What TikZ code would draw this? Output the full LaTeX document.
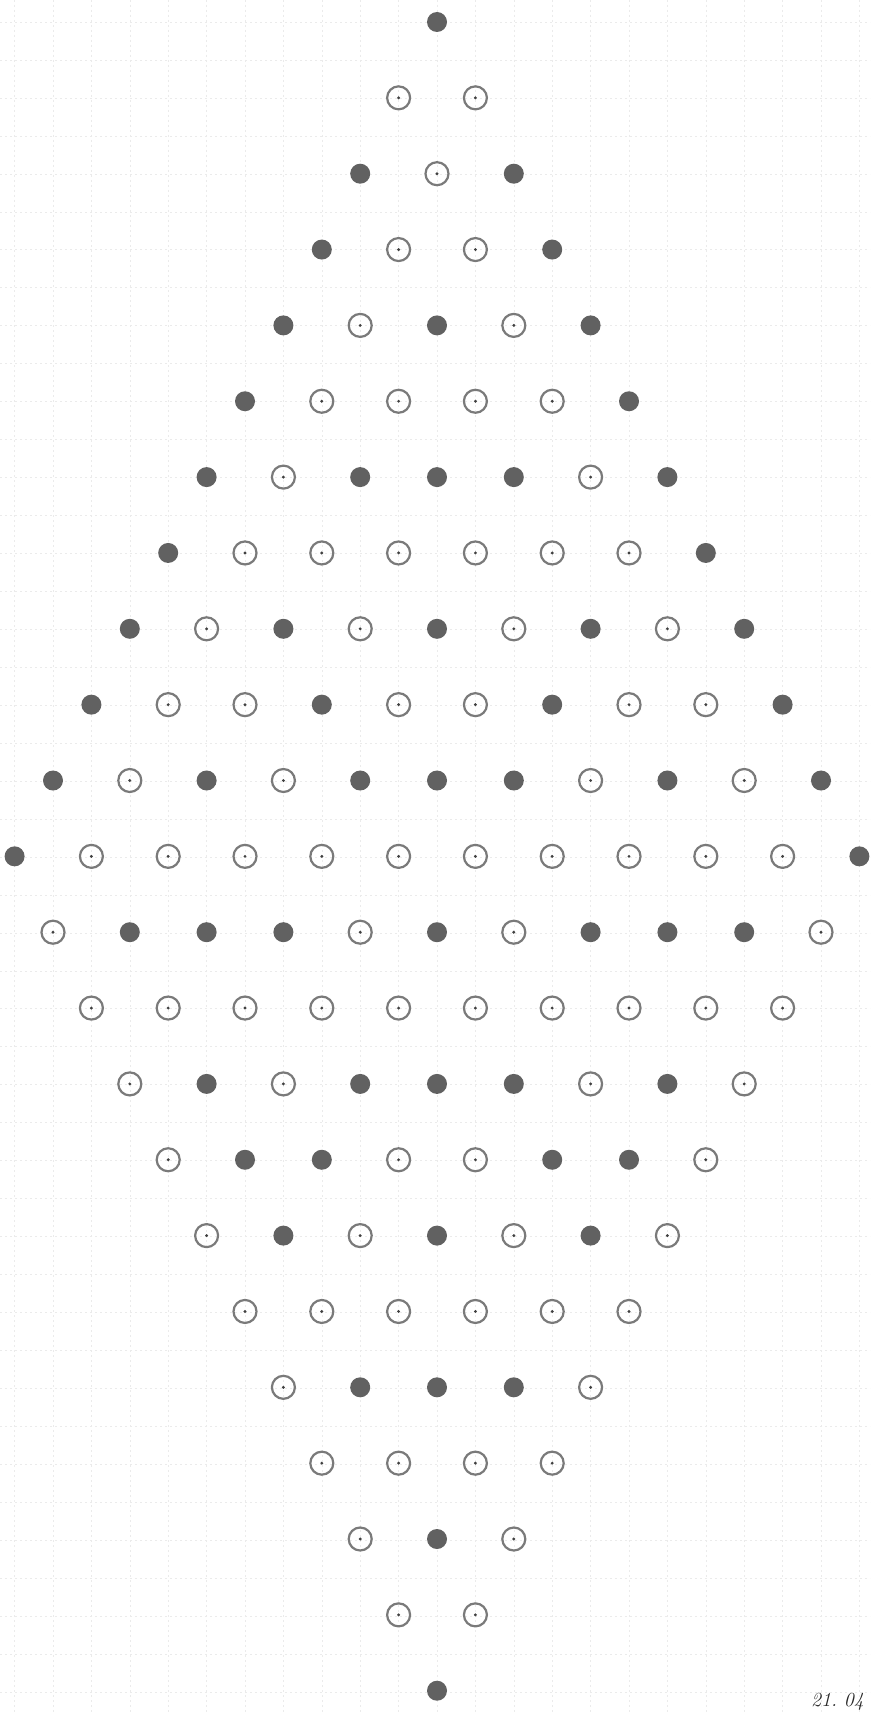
\documentclass[tikz,border=0pt]{standalone}
\begin{document}
\begin{tikzpicture}[x=1pt,y=-1pt,
  Fdot/.style={circle,fill=black!62,minimum size=20pt,inner sep=0pt},
  Odot/.style={circle,draw=black!52,line width=2.2pt,minimum size=23pt,inner sep=0pt,
    path picture={\fill[black!75] (path picture bounding box.center) circle (1.6pt);}},
  gridline/.style={black!8,line width=0.5pt,dash pattern=on 2pt off 3pt},
  datetext/.style={font=\itshape\fontsize{20}{22}\selectfont,text=black!85,anchor=south east,inner sep=0pt}]
\useasboundingbox (0,0) rectangle (870,1715);
\fill[white] (0,0) rectangle (870,1715);
% faint grid paper
\foreach \k in {-11,...,11}{
  \draw[gridline] ({437+38.4*\k},0) -- ({437+38.4*\k},1715);
}
\foreach \k in {0,...,44}{
  \draw[gridline] (0,{22+37.95*\k}) -- (870,{22+37.95*\k});
}
% dots
\foreach \r/\pat in {
  1/{F},
  2/{O,O},
  3/{F,O,F},
  4/{F,O,O,F},
  5/{F,O,F,O,F},
  6/{F,O,O,O,O,F},
  7/{F,O,F,F,F,O,F},
  8/{F,O,O,O,O,O,O,F},
  9/{F,O,F,O,F,O,F,O,F},
  10/{F,O,O,F,O,O,F,O,O,F},
  11/{F,O,F,O,F,F,F,O,F,O,F},
  12/{F,O,O,O,O,O,O,O,O,O,O,F},
  13/{O,F,F,F,O,F,O,F,F,F,O},
  14/{O,O,O,O,O,O,O,O,O,O},
  15/{O,F,O,F,F,F,O,F,O},
  16/{O,F,F,O,O,F,F,O},
  17/{O,F,O,F,O,F,O},
  18/{O,O,O,O,O,O},
  19/{O,F,F,F,O},
  20/{O,O,O,O},
  21/{O,F,O},
  22/{O,O},
  23/{F}}{
  \pgfmathtruncatemacro\n{\r<=12 ? \r : 24-\r}
  \foreach \c [count=\i] in \pat {
    \node[\c dot] (d-\r-\i) at ({437+(2*\i-\n-1)*38.4},{22+(\r-1)*75.85}) {};
  }
}
\node[datetext] (date) at (864,1711) {21.\,\,04};
\end{tikzpicture}
\end{document}
